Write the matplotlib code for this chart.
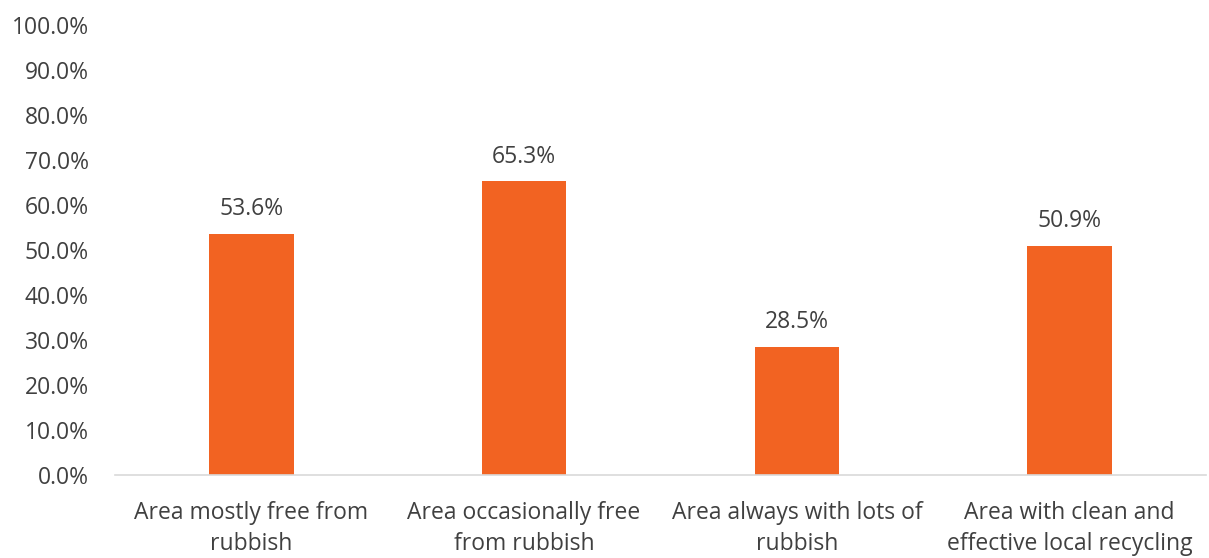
import matplotlib
matplotlib.use('Agg')
import matplotlib.pyplot as plt
from matplotlib.ticker import MultipleLocator, FuncFormatter

# Datos
categorias = ['Area mostly free from\nrubbish',
              'Area occasionally free\nfrom rubbish',
              'Area always with lots of\nrubbish',
              'Area with clean and\neffective local recycling']
valores = [53.6, 65.3, 28.5, 50.9]

NARANJA = '#F26322'
TEXTO = '#404040'
FS = 16.5

plt.rcParams['font.family'] = ['Open Sans', 'DejaVu Sans']

fig = plt.figure(figsize=(12.09, 5.58), dpi=100)
ax = fig.add_axes([0.0951, 0.1487, 0.9024, 0.8063])

x = range(len(valores))
barras = ax.bar(x, valores, width=0.31, color=NARANJA, zorder=2)

for b, v in zip(barras, valores):
    ax.text(b.get_x() + b.get_width() / 2, v + 2.8, f'{v:.1f}%',
            ha='center', va='bottom', fontsize=FS, color=TEXTO)

ax.set_xlim(-0.5, len(valores) - 0.5)
ax.set_ylim(0, 100)
ax.yaxis.set_major_locator(MultipleLocator(10))
ax.yaxis.set_major_formatter(FuncFormatter(lambda v, p: f'{v:.1f}%'))
ax.set_xticks(list(x))
ax.set_xticklabels(categorias, fontsize=FS, color=TEXTO, linespacing=1.42)
ax.tick_params(axis='y', labelsize=FS, labelcolor=TEXTO, length=0, pad=19)
ax.tick_params(axis='x', length=0, pad=18.5)

for lado in ['top', 'right', 'left']:
    ax.spines[lado].set_visible(False)
ax.spines['bottom'].set_color('#D9D9D9')
ax.spines['bottom'].set_linewidth(1.2)

fig.savefig('out.png', dpi=100, facecolor='white')
